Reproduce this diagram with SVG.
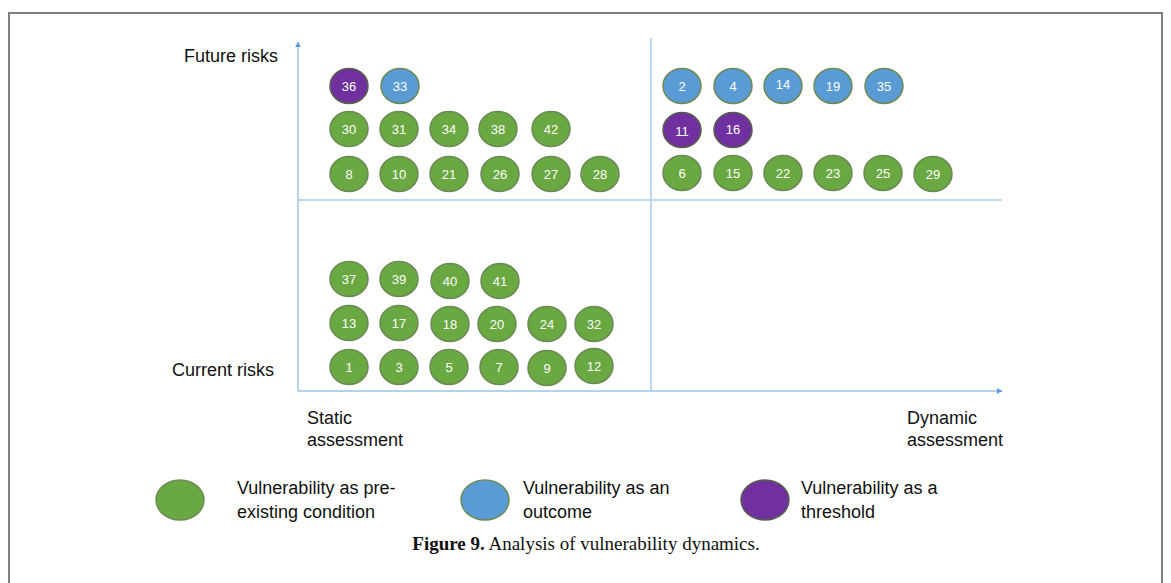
<svg xmlns="http://www.w3.org/2000/svg" width="1171" height="583" viewBox="0 0 1171 583">
<style>
.g{fill:#6aa842;stroke:#6b8a55;stroke-width:1.5}
.b{fill:#5b9bd5;stroke:#6b8a55;stroke-width:1.5}
.p{fill:#7030a0;stroke:#55604a;stroke-width:1.5}
.n{font-family:"Liberation Sans",Arial,sans-serif;font-size:13px;fill:#fff;text-anchor:middle}
.t{font-family:"Liberation Sans",Arial,sans-serif;font-size:18px;fill:#111}
.ax{stroke:#9dc3e6;stroke-width:1.5;fill:none}
.dv{stroke:#bdd7ee;stroke-width:2;fill:none}
</style>
<defs>
<marker id="arr" viewBox="0 0 10 10" refX="9" refY="5" markerWidth="6" markerHeight="6" orient="auto" markerUnits="userSpaceOnUse"><path d="M0,0 L10,5 L0,10 z" fill="#5b9bd5"/></marker>
</defs>
<rect width="1171" height="583" fill="#fff"/>
<path d="M9,590 L9,13 L1162,13 L1162,590" fill="none" stroke="#7f7f7f" stroke-width="2"/>
<g id="connectors">
<line class="dv" x1="651" y1="38" x2="651" y2="391"/>
<line class="dv" x1="298" y1="200" x2="1002" y2="200"/>
<line class="ax" x1="298" y1="391" x2="298" y2="42" marker-end="url(#arr)"/>
<line class="ax" x1="298" y1="391" x2="1002" y2="391" marker-end="url(#arr)"/>
</g>
<g id="axis-labels">
<text class="t" x="184" y="62">Future risks</text>
<text class="t" x="172" y="376">Current risks</text>
<text class="t" x="307" y="424">Static</text>
<text class="t" x="307" y="446">assessment</text>
<text class="t" x="907" y="424">Dynamic</text>
<text class="t" x="907" y="446">assessment</text>
</g>
<g id="n36"><ellipse class="p" cx="349" cy="86" rx="19" ry="17.5"/><text class="n" x="349" y="91">36</text></g>
<g id="n33"><ellipse class="b" cx="400" cy="86" rx="19" ry="17.5"/><text class="n" x="400" y="91">33</text></g>
<g id="n30"><ellipse class="g" cx="349" cy="129" rx="19" ry="17.5"/><text class="n" x="349" y="134">30</text></g>
<g id="n31"><ellipse class="g" cx="399" cy="129" rx="19" ry="17.5"/><text class="n" x="399" y="134">31</text></g>
<g id="n34"><ellipse class="g" cx="449" cy="129" rx="19" ry="17.5"/><text class="n" x="449" y="134">34</text></g>
<g id="n38"><ellipse class="g" cx="498" cy="129" rx="19" ry="17.5"/><text class="n" x="498" y="134">38</text></g>
<g id="n42"><ellipse class="g" cx="551" cy="129" rx="19" ry="17.5"/><text class="n" x="551" y="134">42</text></g>
<g id="n8"><ellipse class="g" cx="349" cy="174" rx="19" ry="17.5"/><text class="n" x="349" y="179">8</text></g>
<g id="n10"><ellipse class="g" cx="399" cy="174" rx="19" ry="17.5"/><text class="n" x="399" y="179">10</text></g>
<g id="n21"><ellipse class="g" cx="449" cy="174" rx="19" ry="17.5"/><text class="n" x="449" y="179">21</text></g>
<g id="n26"><ellipse class="g" cx="500" cy="174" rx="19" ry="17.5"/><text class="n" x="500" y="179">26</text></g>
<g id="n27"><ellipse class="g" cx="551" cy="174" rx="19" ry="17.5"/><text class="n" x="551" y="179">27</text></g>
<g id="n28"><ellipse class="g" cx="600" cy="174" rx="19" ry="17.5"/><text class="n" x="600" y="179">28</text></g>
<g id="n2"><ellipse class="b" cx="682" cy="86" rx="19" ry="17.5"/><text class="n" x="682" y="91">2</text></g>
<g id="n4"><ellipse class="b" cx="733" cy="86" rx="19" ry="17.5"/><text class="n" x="733" y="91">4</text></g>
<g id="n14"><ellipse class="b" cx="783" cy="86" rx="19" ry="17.5"/><text class="n" x="783" y="89">14</text></g>
<g id="n19"><ellipse class="b" cx="833" cy="86" rx="19" ry="17.5"/><text class="n" x="833" y="91">19</text></g>
<g id="n35"><ellipse class="b" cx="884" cy="86" rx="19" ry="17.5"/><text class="n" x="884" y="91">35</text></g>
<g id="n11"><ellipse class="p" cx="682" cy="130" rx="19" ry="17.5"/><text class="n" x="682" y="136">11</text></g>
<g id="n16"><ellipse class="p" cx="733" cy="130" rx="19" ry="17.5"/><text class="n" x="733" y="134">16</text></g>
<g id="n6"><ellipse class="g" cx="682" cy="173" rx="19" ry="17.5"/><text class="n" x="682" y="178">6</text></g>
<g id="n15"><ellipse class="g" cx="733" cy="173" rx="19" ry="17.5"/><text class="n" x="733" y="178">15</text></g>
<g id="n22"><ellipse class="g" cx="783" cy="173" rx="19" ry="17.5"/><text class="n" x="783" y="178">22</text></g>
<g id="n23"><ellipse class="g" cx="833" cy="173" rx="19" ry="17.5"/><text class="n" x="833" y="178">23</text></g>
<g id="n25"><ellipse class="g" cx="883" cy="173" rx="19" ry="17.5"/><text class="n" x="883" y="178">25</text></g>
<g id="n29"><ellipse class="g" cx="933" cy="174" rx="19" ry="17.5"/><text class="n" x="933" y="179">29</text></g>
<g id="n37"><ellipse class="g" cx="349" cy="279" rx="19" ry="17.5"/><text class="n" x="349" y="284">37</text></g>
<g id="n39"><ellipse class="g" cx="399" cy="279" rx="19" ry="17.5"/><text class="n" x="399" y="284">39</text></g>
<g id="n40"><ellipse class="g" cx="450" cy="281" rx="19" ry="17.5"/><text class="n" x="450" y="286">40</text></g>
<g id="n41"><ellipse class="g" cx="500" cy="281" rx="19" ry="17.5"/><text class="n" x="500" y="286">41</text></g>
<g id="n13"><ellipse class="g" cx="349" cy="323" rx="19" ry="17.5"/><text class="n" x="349" y="328">13</text></g>
<g id="n17"><ellipse class="g" cx="399" cy="323" rx="19" ry="17.5"/><text class="n" x="399" y="328">17</text></g>
<g id="n18"><ellipse class="g" cx="450" cy="324" rx="19" ry="17.5"/><text class="n" x="450" y="329">18</text></g>
<g id="n20"><ellipse class="g" cx="497" cy="324" rx="19" ry="17.5"/><text class="n" x="497" y="329">20</text></g>
<g id="n24"><ellipse class="g" cx="547" cy="324" rx="19" ry="17.5"/><text class="n" x="547" y="329">24</text></g>
<g id="n32"><ellipse class="g" cx="594" cy="324" rx="19" ry="17.5"/><text class="n" x="594" y="329">32</text></g>
<g id="n1"><ellipse class="g" cx="349" cy="367" rx="19" ry="17.5"/><text class="n" x="349" y="372">1</text></g>
<g id="n3"><ellipse class="g" cx="399" cy="367" rx="19" ry="17.5"/><text class="n" x="399" y="372">3</text></g>
<g id="n5"><ellipse class="g" cx="449" cy="367" rx="19" ry="17.5"/><text class="n" x="449" y="372">5</text></g>
<g id="n7"><ellipse class="g" cx="499" cy="367" rx="19" ry="17.5"/><text class="n" x="499" y="372">7</text></g>
<g id="n9"><ellipse class="g" cx="547" cy="368" rx="19" ry="17.5"/><text class="n" x="547" y="373">9</text></g>
<g id="n12"><ellipse class="g" cx="594" cy="366" rx="19" ry="17.5"/><text class="n" x="594" y="371">12</text></g>
<g id="legend-green"><ellipse class="g" cx="180" cy="500" rx="24" ry="20"/><text class="t" x="237" y="494">Vulnerability as pre-</text><text class="t" x="237" y="518">existing condition</text></g>
<g id="legend-blue"><ellipse class="b" cx="485" cy="500" rx="24" ry="20"/><text class="t" x="523" y="494">Vulnerability as an</text><text class="t" x="523" y="518">outcome</text></g>
<g id="legend-purple"><ellipse class="p" cx="765" cy="500" rx="24" ry="20"/><text class="t" x="801" y="494">Vulnerability as a</text><text class="t" x="801" y="518">threshold</text></g>
<text x="586" y="550" text-anchor="middle" font-family="Liberation Serif,'Times New Roman',serif" font-size="19px" fill="#111"><tspan font-weight="bold">Figure 9.</tspan>  Analysis of vulnerability dynamics.</text>
</svg>
